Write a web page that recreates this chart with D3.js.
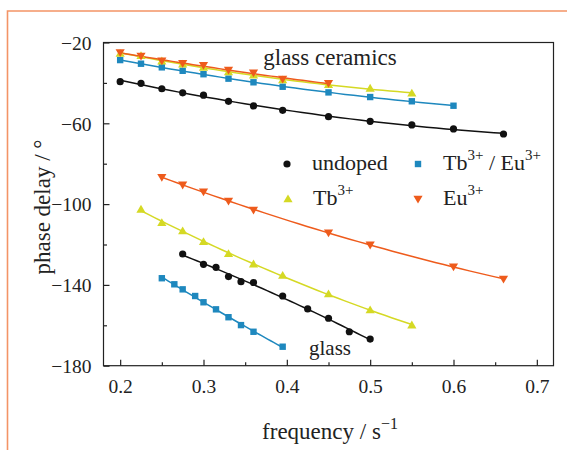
<!DOCTYPE html>
<html><head><meta charset="utf-8">
<script src="https://cdn.jsdelivr.net/npm/d3@7"></script>
<style>
body{margin:0;background:#fff;}
text{font-family:"Liberation Serif","Times New Roman",serif;fill:#222;}
</style></head>
<body><svg id="c" width="567" height="450"></svg>
<script>
// ---- data ----
const gcUndopedX = [0.2,0.225,0.25,0.275,0.3,0.33,0.36,0.395,0.45,0.5,0.55,0.6,0.66];
const gcUndopedY = [-39.4,-40.2,-42.9,-44.9,-46.1,-49.1,-51.4,-53.6,-56.7,-59.0,-60.8,-62.8,-65.3];
const gcTbEuX = [0.2,0.225,0.25,0.275,0.3,0.33,0.36,0.395,0.45,0.5,0.55,0.6];
const gcTbEuY = [-28.7,-30.5,-32.3,-34.0,-35.7,-37.9,-39.7,-41.9,-44.7,-47.0,-49.1,-51.3];
const gcTbX = [0.2,0.225,0.25,0.275,0.3,0.33,0.36,0.395,0.45,0.5,0.55];
const gcTbY = [-25.4,-26.5,-29.2,-30.8,-32.3,-34.6,-36.2,-38.6,-40.9,-42.7,-45.1];
const gcEuX = [0.2,0.225,0.25,0.275,0.3,0.33,0.36,0.395,0.45];
const gcEuY = [-25.0,-26.7,-29.0,-30.3,-31.3,-33.6,-35.0,-38.1,-40.2];
const glUndopedX = [0.275,0.3,0.315,0.33,0.345,0.36,0.395,0.425,0.45,0.475,0.5];
const glUndopedY = [-124.7,-129.8,-131.3,-135.9,-138.4,-138.8,-145.5,-151.9,-156.5,-163.2,-166.8];
const glTbEuX = [0.25,0.265,0.275,0.29,0.3,0.315,0.33,0.345,0.36,0.395];
const glTbEuY = [-136.7,-139.7,-142.2,-145.5,-148.6,-152.1,-156.0,-159.9,-163.2,-170.6];
const glTbX = [0.225,0.25,0.275,0.3,0.33,0.36,0.395,0.45,0.5,0.55];
const glTbY = [-102.6,-109.2,-113.3,-118.6,-124.6,-129.7,-135.3,-144.5,-152.4,-159.9];
const glEuX = [0.25,0.275,0.3,0.33,0.36,0.45,0.5,0.6,0.66];
const glEuY = [-86.7,-90.5,-93.9,-98.5,-102.9,-114.2,-120.2,-131.0,-137.1];

const xMajor = [0.2,0.3,0.4,0.5,0.6,0.7];
const xMinor = [0.25,0.35,0.45,0.55,0.65];
const yMajor = [-20,-60,-100,-140,-180];
const yMinor = [-40,-80,-120,-160];

const colors = {undoped:"#111111", tbeu:"#1E88BE", tb:"#D5D924", eu:"#EE5B1C"};

const series = [
  {x:gcUndopedX,y:gcUndopedY,k:"undoped",m:"circle"},
  {x:gcTbEuX,y:gcTbEuY,k:"tbeu",m:"square"},
  {x:gcTbX,y:gcTbY,k:"tb",m:"up"},
  {x:gcEuX,y:gcEuY,k:"eu",m:"down"},
  {x:glEuX,y:glEuY,k:"eu",m:"down"},
  {x:glTbX,y:glTbY,k:"tb",m:"up"},
  {x:glUndopedX,y:glUndopedY,k:"undoped",m:"circle"},
  {x:glTbEuX,y:glTbEuY,k:"tbeu",m:"square"}
];

// ---- drawing ----
const svg = d3.select("#c");
const L=103.5,R=553.5,T=42.5,B=365.7;
const x = d3.scaleLinear().domain([0.18,0.72]).range([L,R]);
const y = d3.scaleLinear().domain([-180,-20]).range([B,T]);
const FONT = "Liberation Serif, Times New Roman, serif";

// orange frame
svg.append("path").attr("d",`M7.5,${450} L7.5,11 L567,11`)
  .attr("fill","none").attr("stroke","#F39466").attr("stroke-width",1.6);

// quadratic least squares fit
function fit(xs,ys){
  const mx=d3.mean(xs);
  let S=[0,0,0,0,0], Ty=[0,0,0];
  xs.forEach((xv,i)=>{const u=xv-mx;let p=1;for(let k=0;k<5;k++){S[k]+=p;if(k<3)Ty[k]+=p*ys[i];p*=u;}});
  const A=[[S[0],S[1],S[2],Ty[0]],[S[1],S[2],S[3],Ty[1]],[S[2],S[3],S[4],Ty[2]]];
  for(let i=0;i<3;i++){for(let j=i+1;j<3;j++){const f=A[j][i]/A[i][i];for(let k=i;k<4;k++)A[j][k]-=f*A[i][k];}}
  const c=[0,0,0];
  for(let i=2;i>=0;i--){let s=A[i][3];for(let k=i+1;k<3;k++)s-=A[i][k]*c[k];c[i]=s/A[i][i];}
  return xv=>{const u=xv-mx;return c[0]+c[1]*u+c[2]*u*u;};
}

const g = svg.append("g");
const line = d3.line().x(d=>x(d[0])).y(d=>y(d[1]));
series.forEach(s=>{
  const f=fit(s.x,s.y);
  const x0=d3.min(s.x), x1=d3.max(s.x);
  const pts=d3.range(0,41).map(i=>{const xv=x0+(x1-x0)*i/40;return [xv,f(xv)];});
  g.append("path").attr("d",line(pts)).attr("fill","none")
    .attr("stroke",colors[s.k]).attr("stroke-width",1.5);
});

function marker(sel,type,cx,cy,col){
  if(type==="circle") sel.append("circle").attr("cx",cx).attr("cy",cy).attr("r",3.6).attr("fill",col);
  else if(type==="square") sel.append("rect").attr("x",cx-3.2).attr("y",cy-3.2).attr("width",6.4).attr("height",6.4).attr("fill",col);
  else if(type==="up") sel.append("path").attr("d",`M${cx},${cy-4.5} L${cx+4.6},${cy+3.3} L${cx-4.6},${cy+3.3}Z`).attr("fill",col);
  else sel.append("path").attr("d",`M${cx},${cy+4.5} L${cx+4.6},${cy-3.3} L${cx-4.6},${cy-3.3}Z`).attr("fill",col);
}
series.forEach(s=>{
  s.x.forEach((xv,i)=>marker(g,s.m,x(xv),y(s.y[i]),colors[s.k]));
});

// axes box
svg.append("rect").attr("x",L).attr("y",T).attr("width",R-L).attr("height",B-T)
  .attr("fill","none").attr("stroke","#222").attr("stroke-width",1.2);

const xa = svg.append("g").attr("transform",`translate(0,${B})`);
xa.call(d3.axisBottom(x).tickValues(xMajor).tickSize(-6).tickFormat(d3.format(".1f")));
const xm = svg.append("g").attr("transform",`translate(0,${B})`);
xm.call(d3.axisBottom(x).tickValues(xMinor).tickSize(-3.5).tickFormat(""));
const ya = svg.append("g").attr("transform",`translate(${L},0)`);
ya.call(d3.axisLeft(y).tickValues(yMajor).tickSize(-6).tickFormat(d=>"\u2212"+Math.abs(d)));
const ym = svg.append("g").attr("transform",`translate(${L},0)`);
ym.call(d3.axisLeft(y).tickValues(yMinor).tickSize(-3.5).tickFormat(""));
[xa,xm,ya,ym].forEach(a=>{a.attr("font-family",FONT);a.select(".domain").remove();a.selectAll("line").attr("stroke","#222").attr("stroke-width",1.2);
  a.selectAll("text").style("font-family",FONT).style("font-size","19.5px").attr("fill","#222");});
ya.selectAll("text").attr("dy","0.35em").attr("x",-12);
xa.selectAll("text").attr("y",13);

// axis titles
const xt = svg.append("text").attr("x",330).attr("y",439).attr("text-anchor","middle").style("font-size","23px");
xt.append("tspan").text("frequency / s");
xt.append("tspan").text("\u22121").attr("dy",-10).style("font-size","16px");
svg.append("text").attr("transform","translate(50,207) rotate(-90)").attr("text-anchor","middle")
  .style("font-size","23px").text("phase delay / \u00B0");

// annotations
svg.append("text").attr("x",330).attr("y",65).attr("text-anchor","middle").style("font-size","23px").text("glass ceramics");
svg.append("text").attr("x",330).attr("y",355).attr("text-anchor","middle").style("font-size","21px").text("glass");

// legend
const leg = [
  {k:"undoped",m:"circle",lx:287,ly:164,parts:[["undoped",0]]},
  {k:"tbeu",m:"square",lx:418,ly:164,parts:[["Tb",0],["3+",1],[" / Eu",2],["3+",1]]},
  {k:"tb",m:"up",lx:288,ly:199,parts:[["Tb",0],["3+",1]]},
  {k:"eu",m:"down",lx:418,ly:199,parts:[["Eu",0],["3+",1]]}
];
leg.forEach(l=>{
  marker(svg,l.m,l.lx,l.ly,colors[l.k]);
  const t=svg.append("text").attr("x",l.lx+25).attr("y",l.ly+6).style("font-size","22px");
  let sup=false;
  l.parts.forEach(p=>{
    const ts=t.append("tspan").text(p[0]);
    if(p[1]===1){ts.attr("dy",-10).style("font-size","15px");sup=true;}
    else if(sup){ts.attr("dy",10);sup=false;}
  });
});
</script></body></html>
